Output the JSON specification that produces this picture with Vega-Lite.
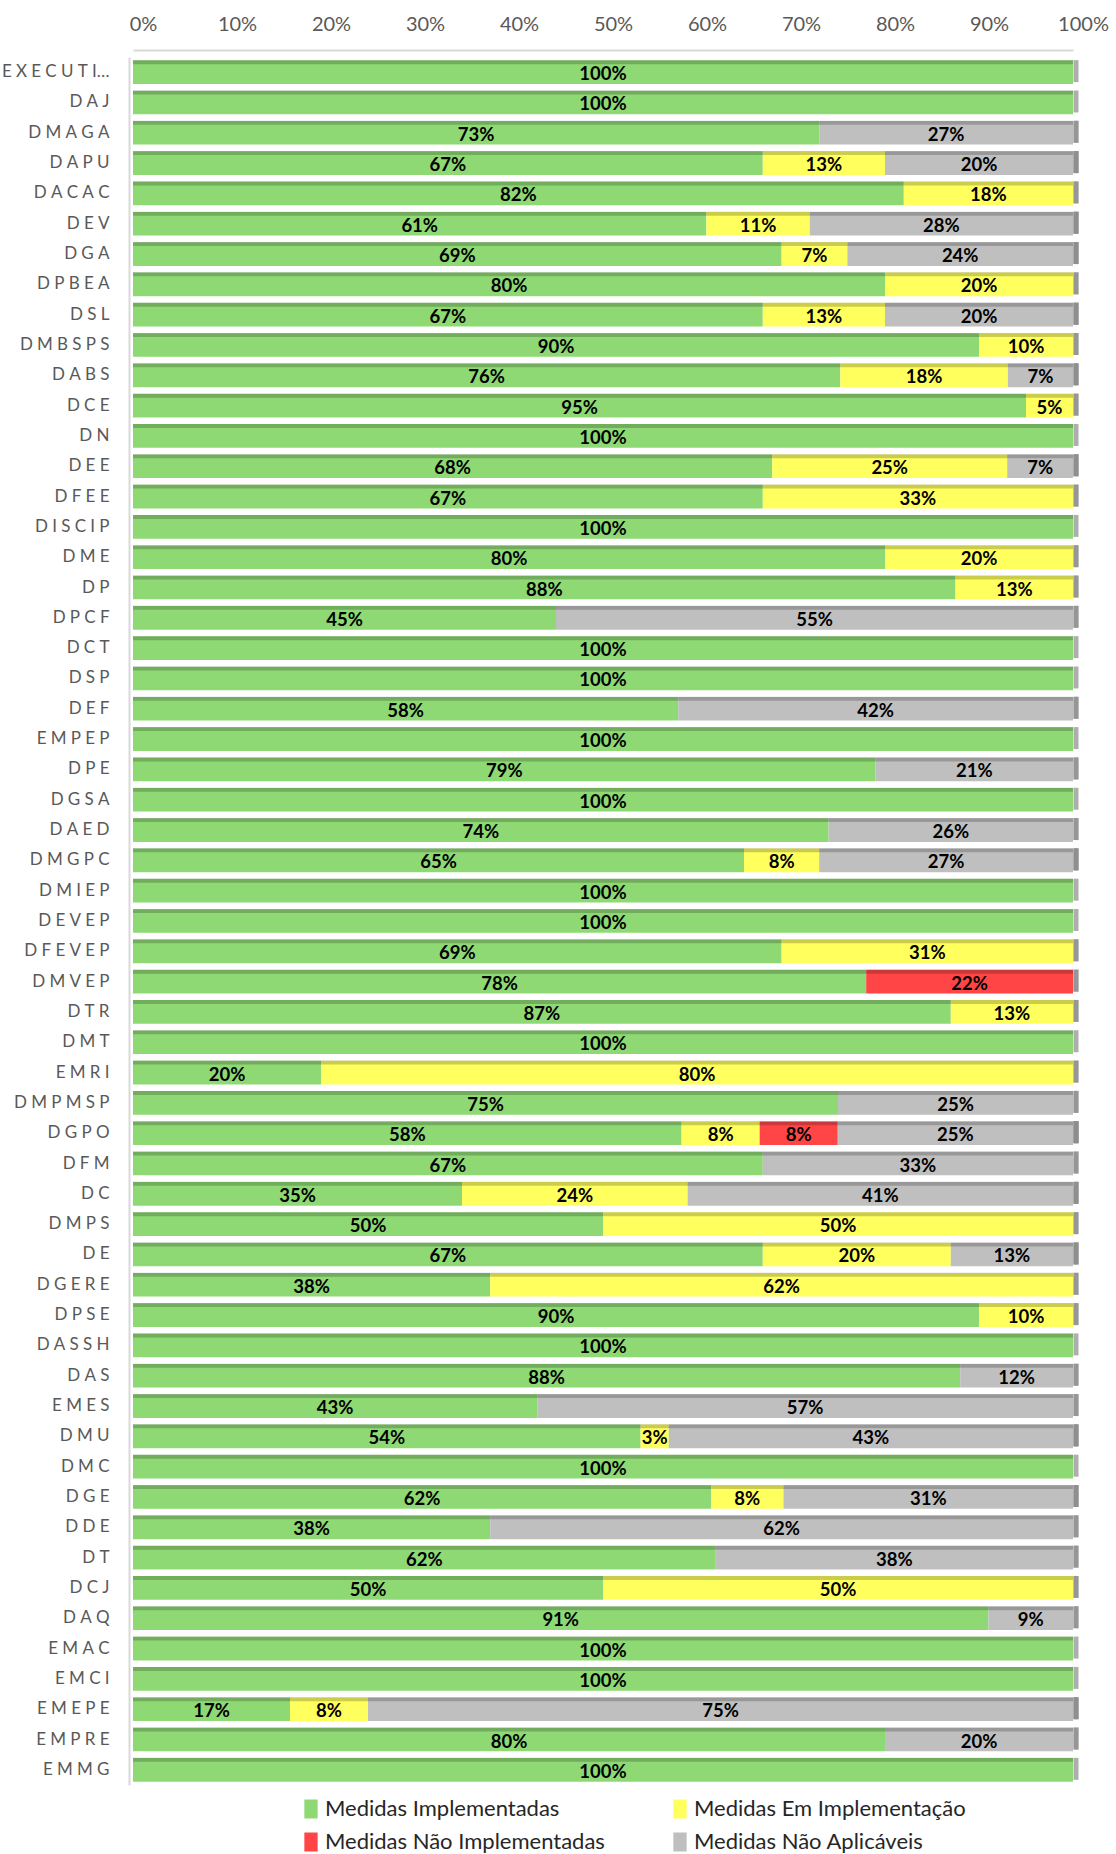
{
  "$schema": "https://vega.github.io/schema/vega-lite/v6.json",
  "width": 940,
  "height": 1728,
  "autosize": "none",
  "padding": {"left": 133, "top": 57, "right": 43, "bottom": 69},
  "background": "white",
  "config": {"view": {"stroke": null}, "font": "Lato"},
  "data": {"values": [
    {"d": "EXECUTI…", "s": "Medidas Implementadas", "v": 1},
    {"d": "DAJ", "s": "Medidas Implementadas", "v": 1},
    {"d": "DMAGA", "s": "Medidas Implementadas", "v": 0.73},
    {"d": "DMAGA", "s": "Medidas Não Aplicáveis", "v": 0.27},
    {"d": "DAPU", "s": "Medidas Implementadas", "v": 0.67},
    {"d": "DAPU", "s": "Medidas Em Implementação", "v": 0.13},
    {"d": "DAPU", "s": "Medidas Não Aplicáveis", "v": 0.20},
    {"d": "DACAC", "s": "Medidas Implementadas", "v": 0.82},
    {"d": "DACAC", "s": "Medidas Em Implementação", "v": 0.18},
    {"d": "DEV", "s": "Medidas Implementadas", "v": 0.61},
    {"d": "DEV", "s": "Medidas Em Implementação", "v": 0.11},
    {"d": "DEV", "s": "Medidas Não Aplicáveis", "v": 0.28},
    {"d": "DGA", "s": "Medidas Implementadas", "v": 0.69},
    {"d": "DGA", "s": "Medidas Em Implementação", "v": 0.07},
    {"d": "DGA", "s": "Medidas Não Aplicáveis", "v": 0.24},
    {"d": "DPBEA", "s": "Medidas Implementadas", "v": 0.80},
    {"d": "DPBEA", "s": "Medidas Em Implementação", "v": 0.20},
    {"d": "DSL", "s": "Medidas Implementadas", "v": 0.67},
    {"d": "DSL", "s": "Medidas Em Implementação", "v": 0.13},
    {"d": "DSL", "s": "Medidas Não Aplicáveis", "v": 0.20},
    {"d": "DMBSPS", "s": "Medidas Implementadas", "v": 0.90},
    {"d": "DMBSPS", "s": "Medidas Em Implementação", "v": 0.10},
    {"d": "DABS", "s": "Medidas Implementadas", "v": 0.76},
    {"d": "DABS", "s": "Medidas Em Implementação", "v": 0.18},
    {"d": "DABS", "s": "Medidas Não Aplicáveis", "v": 0.07},
    {"d": "DCE", "s": "Medidas Implementadas", "v": 0.95},
    {"d": "DCE", "s": "Medidas Em Implementação", "v": 0.05},
    {"d": "DN", "s": "Medidas Implementadas", "v": 1},
    {"d": "DEE", "s": "Medidas Implementadas", "v": 0.68},
    {"d": "DEE", "s": "Medidas Em Implementação", "v": 0.25},
    {"d": "DEE", "s": "Medidas Não Aplicáveis", "v": 0.07},
    {"d": "DFEE", "s": "Medidas Implementadas", "v": 0.67},
    {"d": "DFEE", "s": "Medidas Em Implementação", "v": 0.33},
    {"d": "DISCIP", "s": "Medidas Implementadas", "v": 1},
    {"d": "DME", "s": "Medidas Implementadas", "v": 0.80},
    {"d": "DME", "s": "Medidas Em Implementação", "v": 0.20},
    {"d": "DP", "s": "Medidas Implementadas", "v": 0.875},
    {"d": "DP", "s": "Medidas Em Implementação", "v": 0.125},
    {"d": "DPCF", "s": "Medidas Implementadas", "v": 0.45},
    {"d": "DPCF", "s": "Medidas Não Aplicáveis", "v": 0.55},
    {"d": "DCT", "s": "Medidas Implementadas", "v": 1},
    {"d": "DSP", "s": "Medidas Implementadas", "v": 1},
    {"d": "DEF", "s": "Medidas Implementadas", "v": 0.58},
    {"d": "DEF", "s": "Medidas Não Aplicáveis", "v": 0.42},
    {"d": "EMPEP", "s": "Medidas Implementadas", "v": 1},
    {"d": "DPE", "s": "Medidas Implementadas", "v": 0.79},
    {"d": "DPE", "s": "Medidas Não Aplicáveis", "v": 0.21},
    {"d": "DGSA", "s": "Medidas Implementadas", "v": 1},
    {"d": "DAED", "s": "Medidas Implementadas", "v": 0.74},
    {"d": "DAED", "s": "Medidas Não Aplicáveis", "v": 0.26},
    {"d": "DMGPC", "s": "Medidas Implementadas", "v": 0.65},
    {"d": "DMGPC", "s": "Medidas Em Implementação", "v": 0.08},
    {"d": "DMGPC", "s": "Medidas Não Aplicáveis", "v": 0.27},
    {"d": "DMIEP", "s": "Medidas Implementadas", "v": 1},
    {"d": "DEVEP", "s": "Medidas Implementadas", "v": 1},
    {"d": "DFEVEP", "s": "Medidas Implementadas", "v": 0.69},
    {"d": "DFEVEP", "s": "Medidas Em Implementação", "v": 0.31},
    {"d": "DMVEP", "s": "Medidas Implementadas", "v": 0.78},
    {"d": "DMVEP", "s": "Medidas Não Implementadas", "v": 0.22},
    {"d": "DTR", "s": "Medidas Implementadas", "v": 0.87},
    {"d": "DTR", "s": "Medidas Em Implementação", "v": 0.13},
    {"d": "DMT", "s": "Medidas Implementadas", "v": 1},
    {"d": "EMRI", "s": "Medidas Implementadas", "v": 0.20},
    {"d": "EMRI", "s": "Medidas Em Implementação", "v": 0.80},
    {"d": "DMPMSP", "s": "Medidas Implementadas", "v": 0.75},
    {"d": "DMPMSP", "s": "Medidas Não Aplicáveis", "v": 0.25},
    {"d": "DGPO", "s": "Medidas Implementadas", "v": 0.583},
    {"d": "DGPO", "s": "Medidas Em Implementação", "v": 0.083},
    {"d": "DGPO", "s": "Medidas Não Implementadas", "v": 0.083},
    {"d": "DGPO", "s": "Medidas Não Aplicáveis", "v": 0.25},
    {"d": "DFM", "s": "Medidas Implementadas", "v": 0.67},
    {"d": "DFM", "s": "Medidas Não Aplicáveis", "v": 0.33},
    {"d": "DC", "s": "Medidas Implementadas", "v": 0.35},
    {"d": "DC", "s": "Medidas Em Implementação", "v": 0.24},
    {"d": "DC", "s": "Medidas Não Aplicáveis", "v": 0.41},
    {"d": "DMPS", "s": "Medidas Implementadas", "v": 0.50},
    {"d": "DMPS", "s": "Medidas Em Implementação", "v": 0.50},
    {"d": "DE", "s": "Medidas Implementadas", "v": 0.67},
    {"d": "DE", "s": "Medidas Em Implementação", "v": 0.20},
    {"d": "DE", "s": "Medidas Não Aplicáveis", "v": 0.13},
    {"d": "DGERE", "s": "Medidas Implementadas", "v": 0.38},
    {"d": "DGERE", "s": "Medidas Em Implementação", "v": 0.62},
    {"d": "DPSE", "s": "Medidas Implementadas", "v": 0.90},
    {"d": "DPSE", "s": "Medidas Em Implementação", "v": 0.10},
    {"d": "DASSH", "s": "Medidas Implementadas", "v": 1},
    {"d": "DAS", "s": "Medidas Implementadas", "v": 0.88},
    {"d": "DAS", "s": "Medidas Não Aplicáveis", "v": 0.12},
    {"d": "EMES", "s": "Medidas Implementadas", "v": 0.43},
    {"d": "EMES", "s": "Medidas Não Aplicáveis", "v": 0.57},
    {"d": "DMU", "s": "Medidas Implementadas", "v": 0.54},
    {"d": "DMU", "s": "Medidas Em Implementação", "v": 0.03},
    {"d": "DMU", "s": "Medidas Não Aplicáveis", "v": 0.43},
    {"d": "DMC", "s": "Medidas Implementadas", "v": 1},
    {"d": "DGE", "s": "Medidas Implementadas", "v": 0.615},
    {"d": "DGE", "s": "Medidas Em Implementação", "v": 0.077},
    {"d": "DGE", "s": "Medidas Não Aplicáveis", "v": 0.308},
    {"d": "DDE", "s": "Medidas Implementadas", "v": 0.38},
    {"d": "DDE", "s": "Medidas Não Aplicáveis", "v": 0.62},
    {"d": "DT", "s": "Medidas Implementadas", "v": 0.62},
    {"d": "DT", "s": "Medidas Não Aplicáveis", "v": 0.38},
    {"d": "DCJ", "s": "Medidas Implementadas", "v": 0.50},
    {"d": "DCJ", "s": "Medidas Em Implementação", "v": 0.50},
    {"d": "DAQ", "s": "Medidas Implementadas", "v": 0.91},
    {"d": "DAQ", "s": "Medidas Não Aplicáveis", "v": 0.09},
    {"d": "EMAC", "s": "Medidas Implementadas", "v": 1},
    {"d": "EMCI", "s": "Medidas Implementadas", "v": 1},
    {"d": "EMEPE", "s": "Medidas Implementadas", "v": 0.167},
    {"d": "EMEPE", "s": "Medidas Em Implementação", "v": 0.083},
    {"d": "EMEPE", "s": "Medidas Não Aplicáveis", "v": 0.75},
    {"d": "EMPRE", "s": "Medidas Implementadas", "v": 0.80},
    {"d": "EMPRE", "s": "Medidas Não Aplicáveis", "v": 0.20},
    {"d": "EMMG", "s": "Medidas Implementadas", "v": 1}
  ]},
  "transform": [
    {"calculate": "indexof(['Medidas Implementadas','Medidas Em Implementação','Medidas Não Implementadas','Medidas Não Aplicáveis'], datum.s)", "as": "o"},
    {"stack": "v", "groupby": ["d"], "sort": [{"field": "o", "order": "ascending"}], "offset": "normalize", "as": ["v0", "v1"]},
    {"calculate": "(datum.v0 + datum.v1) / 2", "as": "m"}
  ],
  "encoding": {
    "y": {
      "field": "d", "type": "nominal", "sort": null,
      "scale": {"paddingInner": 0.22, "paddingOuter": 0.11},
      "axis": {
        "title": null, "orient": "left", "ticks": false, "tickSize": 0,
        "domainColor": "#D9D9D9", "domainWidth": 2, "offset": 4,
        "labelPadding": 20, "labelFontSize": 17, "labelColor": "#595959",
        "labelFont": "Lato, DejaVu Sans", "labelLimit": 200,
        "labelExpr": "replace(join(split(datum.label, ''), '\u2005'), '\u2005…', '…')"
      }
    }
  },
  "layer": [
    {
      "mark": {"type": "bar"},
      "encoding": {
        "x": {
          "field": "v0", "type": "quantitative", "scale": {"domain": [0, 1]},
          "axis": {
            "orient": "top", "title": null, "format": ".0%",
            "values": [0, 0.1, 0.2, 0.3, 0.4, 0.5, 0.6, 0.7, 0.8, 0.9, 1],
            "ticks": false, "tickSize": 0, "grid": false,
            "labelFlush": false, "labelOverlap": false, "labelBound": false,
            "domainColor": "#D9D9D9", "domainWidth": 2, "offset": 7,
            "labelPadding": 16, "labelFontSize": 20, "labelColor": "#595959",
            "labelOffset": 10, "labelFont": "Lato"
          }
        },
        "x2": {"field": "v1"},
        "color": {
          "field": "s", "type": "nominal",
          "scale": {
            "domain": ["Medidas Implementadas", "Medidas Em Implementação", "Medidas Não Implementadas", "Medidas Não Aplicáveis"],
            "range": ["#8ED973", "#FFFF5E", "#FF4545", "#BFBFBF"]
          },
          "legend": {
            "title": null, "orient": "none", "legendX": 167, "legendY": 1741,
            "direction": "horizontal",
            "columns": 2, "columnPadding": 64, "rowPadding": 11,
            "symbolType": "M-0.7,-1L0.7,-1L0.7,1L-0.7,1Z", "symbolSize": 361,
            "symbolStrokeWidth": 0, "labelFontSize": 22, "labelFont": "Lato",
            "labelColor": "#262626", "labelOffset": 3, "labelLimit": 400
          }
        }
      }
    },
    {
      "mark": {"type": "bar", "size": 4, "yOffset": -10, "color": "black", "opacity": 0.2},
      "encoding": {
        "x": {"field": "v0", "type": "quantitative"},
        "x2": {"field": "v1"}
      }
    },
    {
      "mark": {"type": "tick", "color": "#8C8C8C", "thickness": 5, "size": 22, "xOffset": 3, "yOffset": -1},
      "encoding": {"x": {"datum": 1, "type": "quantitative"}}
    },
    {
      "mark": {"type": "text", "font": "Lato", "fontWeight": "bold", "fontSize": 18.5, "color": "black", "dy": 2},
      "encoding": {
        "x": {"field": "m", "type": "quantitative"},
        "text": {"field": "v", "type": "quantitative", "format": ".0%"}
      }
    }
  ]
}
